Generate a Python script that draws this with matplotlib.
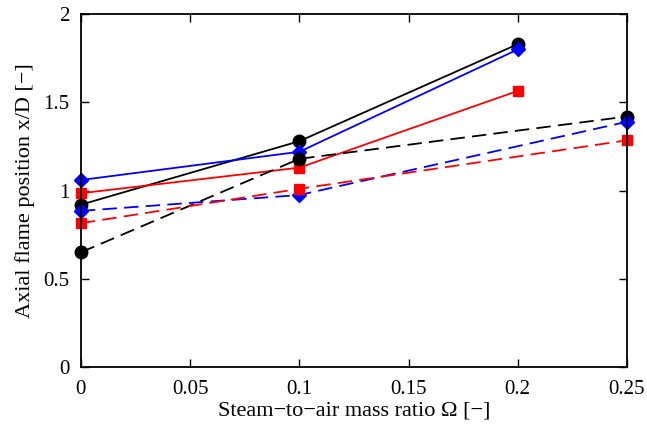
import matplotlib
matplotlib.use("Agg")
import matplotlib.pyplot as plt

plt.rcParams['font.family'] = ['Liberation Serif', 'DejaVu Serif']

omega_a = [0.0, 0.1, 0.2]
omega_b = [0.0, 0.1, 0.25]

solid_black = [0.92, 1.28, 1.83]
solid_blue = [1.06, 1.22, 1.80]
solid_red = [0.985, 1.13, 1.565]

dash_black = [0.65, 1.18, 1.42]
dash_blue = [0.885, 0.975, 1.39]
dash_red = [0.815, 1.01, 1.285]

fig = plt.figure(figsize=(6.47, 4.30), dpi=100)
ax = fig.add_axes([0.125, 0.1465, 0.844, 0.8205])

ms = 9
ax.plot(omega_a, solid_black, '-', color='black', marker='o', ms=ms, lw=1.3, clip_on=False)
ax.plot(omega_a, solid_blue, '-', color='blue', marker='D', ms=ms - 1.5, lw=1.3, clip_on=False)
ax.plot(omega_a, solid_red, '-', color='red', marker='s', ms=ms - 1.5, lw=1.3, clip_on=False)
ax.plot(omega_b, dash_black, '--', color='black', marker='o', ms=ms, lw=1.3, dashes=(8, 4), clip_on=False)
ax.plot(omega_b, dash_blue, '--', color='blue', marker='D', ms=ms - 1.5, lw=1.3, dashes=(8, 4), clip_on=False)
ax.plot(omega_b, dash_red, '--', color='red', marker='s', ms=ms - 1.5, lw=1.3, dashes=(8, 4), clip_on=False)

ax.set_xlim(0, 0.25)
ax.set_ylim(0, 2)
ax.set_xticks([0, 0.05, 0.1, 0.15, 0.2, 0.25])
ax.set_xticklabels(['0', '0.05', '0.1', '0.15', '0.2', '0.25'])
ax.set_yticks([0, 0.5, 1, 1.5, 2])
ax.set_yticklabels(['0', '0.5', '1', '1.5', '2'])
ax.tick_params(direction='in', top=True, right=True, length=6, width=1, labelsize=15)
ax.tick_params(axis='x', pad=9)
ax.tick_params(axis='y', pad=8)
for s in ax.spines.values():
    s.set_linewidth(1.3)

ax.set_xlabel('Steam\u2212to\u2212air mass ratio \u03a9 [\u2212]', fontsize=16, labelpad=2)
ax.set_ylabel('Axial flame position x/D [\u2212]', fontsize=16, labelpad=6)

fig.savefig('out.png', dpi=100)
